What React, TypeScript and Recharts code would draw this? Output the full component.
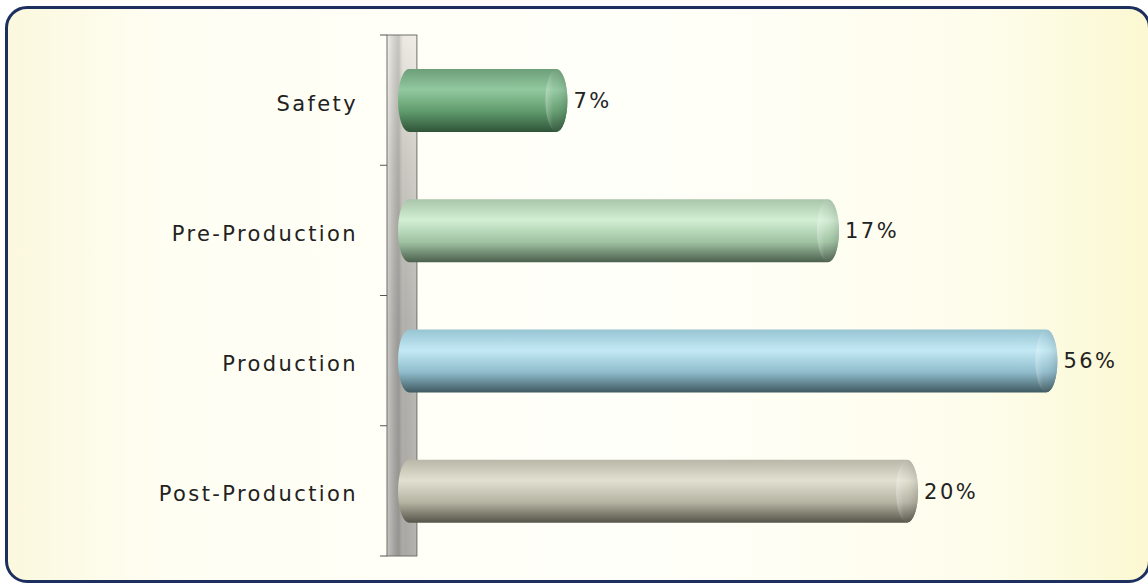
import { BarChart, Bar, XAxis, YAxis, LabelList, ReferenceArea } from 'recharts'

const categories = ['Safety', 'Pre-Production', 'Production', 'Post-Production']
// bar lengths as drawn (0–100 scale), printed shares differ from the drawn lengths
const barLengths = [24.2, 63.0, 94.2, 74.3]
const shareLabels = ['7%', '17%', '56%', '20%']

const BAR_COLORS = [
  { top: '#6d9f78', light: '#92c99f', mid: '#5f9a6b', dark: '#2f5438' },
  { top: '#a9c6ab', light: '#d2eed3', mid: '#9fc3a2', dark: '#4b5f4d' },
  { top: '#98c4d2', light: '#c3e9f5', mid: '#8fbccb', dark: '#3f5961' },
  { top: '#b9b7a8', light: '#e2e0d0', mid: '#b4b2a1', dark: '#55544a' },
]

const FONT = '"Comic Sans MS", "DejaVu Sans", sans-serif'

const data = categories.map((name, i) => ({
  name,
  length: barLengths[i],
  label: shareLabels[i],
}))

function CylinderBar(props: any) {
  const { x, y, width, height, index } = props
  const c = BAR_COLORS[index % BAR_COLORS.length]
  const rx = Math.min(11, width / 2)
  const ry = height / 2
  const cy = y + ry
  const gid = `cyl-${index}`
  const body = `M ${x + rx} ${y} H ${x + width - rx} A ${rx} ${ry} 0 0 1 ${x + width - rx} ${y + height} H ${x + rx} A ${rx} ${ry} 0 0 1 ${x + rx} ${y} Z`
  return (
    <g>
      <defs>
        <linearGradient id={gid} x1="0" y1="0" x2="0" y2="1">
          <stop offset="0%" stopColor={c.top} />
          <stop offset="33%" stopColor={c.light} />
          <stop offset="68%" stopColor={c.mid} />
          <stop offset="100%" stopColor={c.dark} />
        </linearGradient>
        <linearGradient id={`${gid}-cap`} x1="0" y1="0" x2="1" y2="0">
          <stop offset="0%" stopColor="#ffffff" stopOpacity={0.3} />
          <stop offset="35%" stopColor="#ffffff" stopOpacity={0.05} />
          <stop offset="100%" stopColor="#000000" stopOpacity={0.12} />
        </linearGradient>
      </defs>
      <path d={body} fill={`url(#${gid})`} />
      <ellipse cx={x + width - rx} cy={cy} rx={rx} ry={ry - 0.5} fill={`url(#${gid})`} />
      <ellipse cx={x + width - rx} cy={cy} rx={rx} ry={ry - 0.5} fill={`url(#${gid}-cap)`} />
    </g>
  )
}

function Wall(props: any) {
  const { x, y, width, height } = props
  const left = x - 11
  const w = width + 11
  const step = height / categories.length
  const ticks = Array.from({ length: categories.length + 1 }, (_, i) => y + i * step)
  return (
    <g>
      <defs>
        <linearGradient id="wall-v" x1="0" y1="0" x2="0" y2="1">
          <stop offset="0%" stopColor="#eceae2" />
          <stop offset="25%" stopColor="#c9c7c0" />
          <stop offset="55%" stopColor="#b0afaa" />
          <stop offset="100%" stopColor="#a8a7a3" />
        </linearGradient>
        <linearGradient id="wall-h" x1="0" y1="0" x2="1" y2="0">
          <stop offset="0%" stopColor="#ffffff" stopOpacity={0.35} />
          <stop offset="40%" stopColor="#555" stopOpacity={0.25} />
          <stop offset="60%" stopColor="#ffffff" stopOpacity={0} />
          <stop offset="100%" stopColor="#ffffff" stopOpacity={0.15} />
        </linearGradient>
      </defs>
      <rect x={left} y={y} width={w} height={height} fill="url(#wall-v)" />
      <rect x={left} y={y} width={w} height={height} fill="url(#wall-h)" />
      <rect x={left} y={y} width={w} height={height} fill="none" stroke="#6f6e6a" strokeWidth={1} />
      {ticks.map((ty, i) => (
        <line key={i} x1={left - 7} x2={left} y1={ty} y2={ty} stroke="#555" strokeWidth={1} />
      ))}
    </g>
  )
}

export default function App() {
  return (
    <div
      style={{
        position: 'absolute',
        left: 0,
        top: 0,
        width: 1148,
        height: 584,
        background: '#ffffff',
        overflow: 'hidden',
      }}
    >
      <div
        style={{
          position: 'absolute',
          left: 5,
          top: 6,
          width: 1140,
          height: 571,
          border: '3px solid #1c2f5e',
          borderRadius: 22,
          background:
            'linear-gradient(90deg, #fbf8de 0%, #fffef3 14%, #fffffa 55%, #fefdec 85%, #fbf8d2 100%)',
        }}
      />
      <div style={{ position: 'absolute', left: 0, top: 0 }}>
        <BarChart
          width={1148}
          height={584}
          data={data}
          layout="vertical"
          margin={{ top: 35, right: 50, bottom: 28, left: 0 }}
          barSize={63}
        >
          <XAxis type="number" dataKey="length" domain={[0, 100]} hide />
          <YAxis
            type="category"
            dataKey="name"
            width={398}
            axisLine={false}
            tickLine={false}
            tickMargin={34}
            tick={{ fill: '#222', fontSize: 21, fontFamily: FONT, letterSpacing: 2.4, dy: 3 }}
          />
          <ReferenceArea x1={0} x2={2.7} ifOverflow="visible" shape={<Wall />} />
          <Bar dataKey="length" isAnimationActive={false} shape={<CylinderBar />}>
            <LabelList
              dataKey="label"
              position="right"
              offset={6}
              style={{ fill: '#222', fontSize: 21, fontFamily: FONT, letterSpacing: 2.5 }}
            />
          </Bar>
        </BarChart>
      </div>
    </div>
  )
}
